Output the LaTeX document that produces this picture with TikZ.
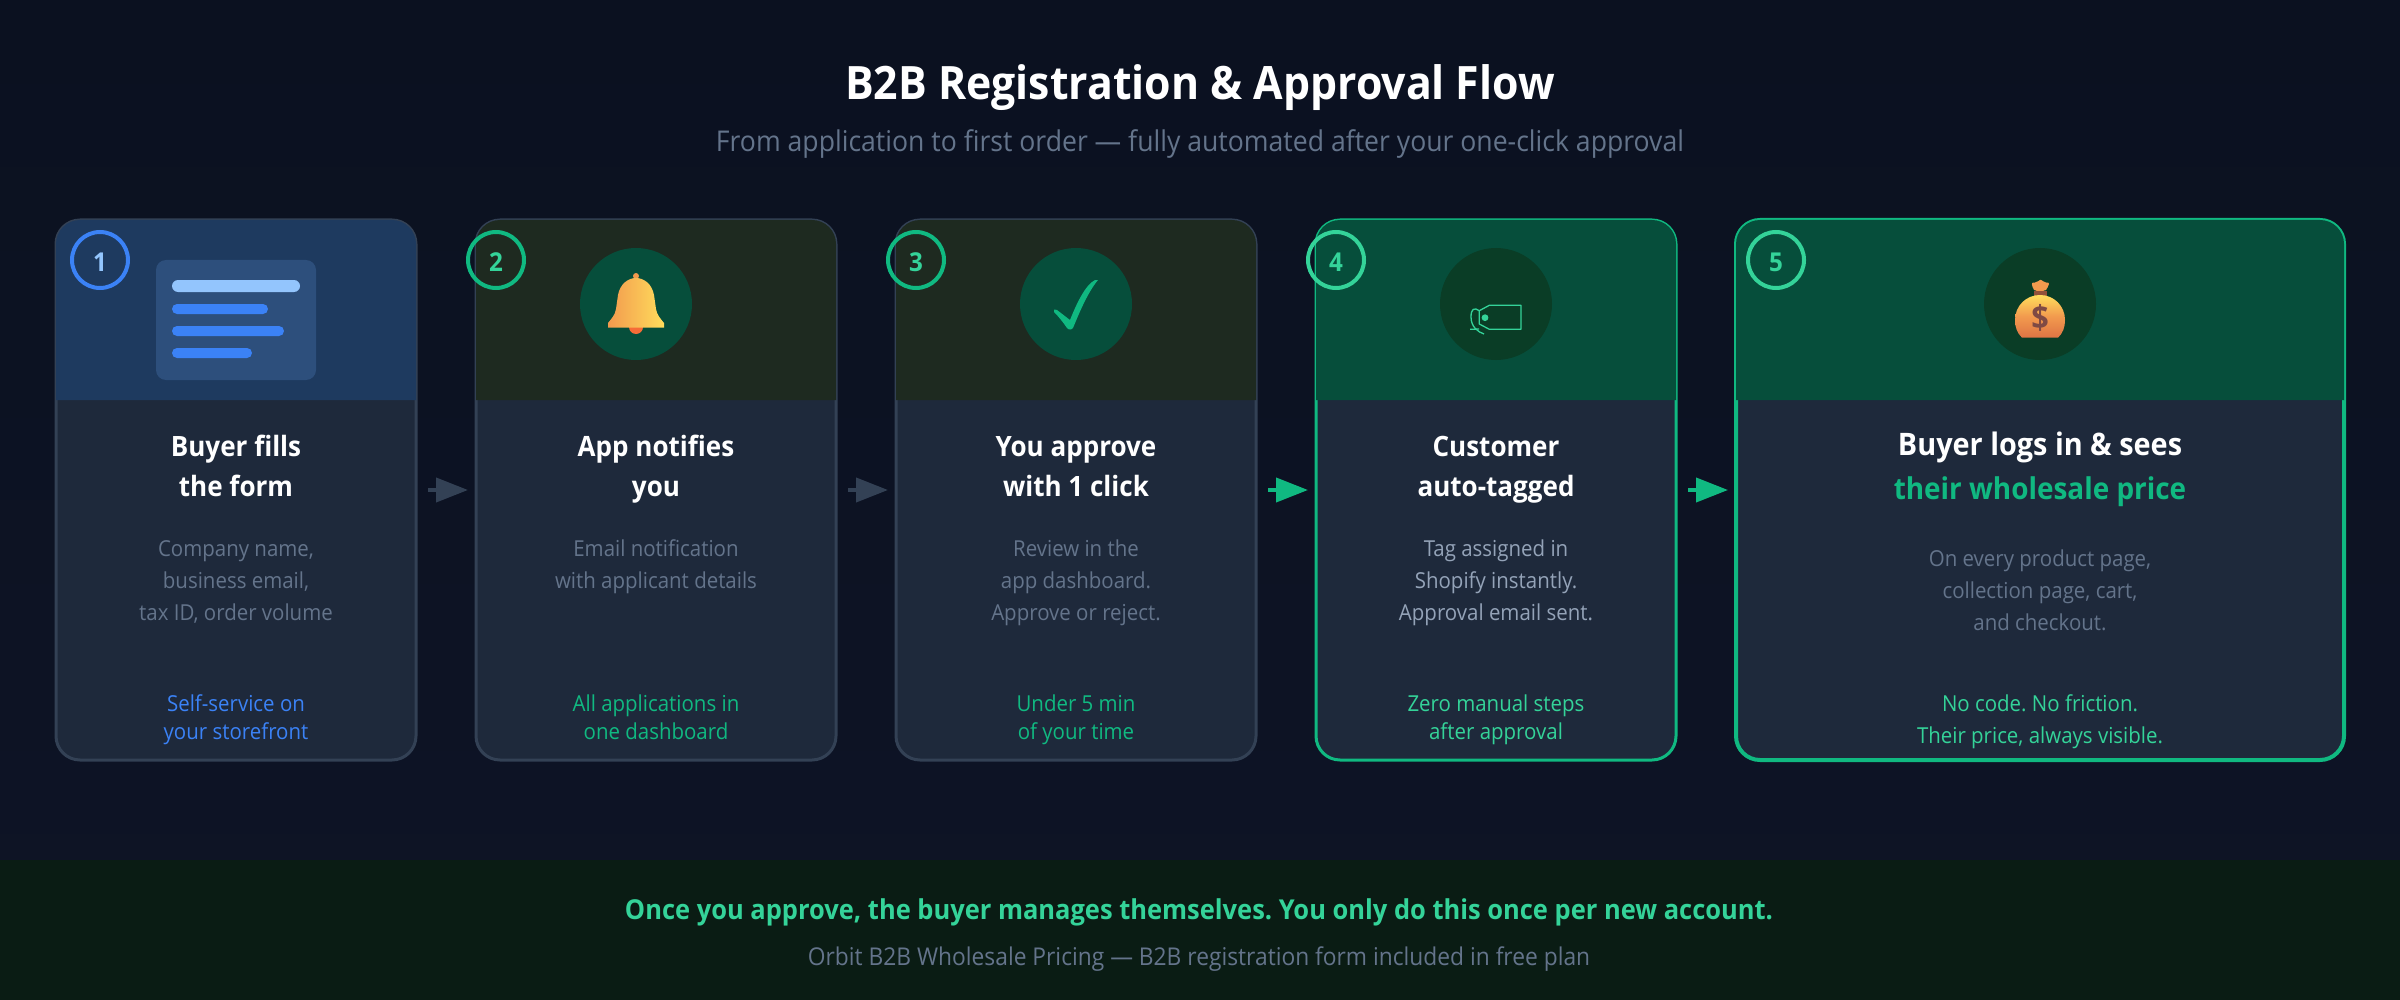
\documentclass[tikz,border=0pt]{standalone}
\usepackage{fontspec}
\setmainfont{Open Sans}[FakeStretch=0.93]
\usetikzlibrary{arrows.meta}

\definecolor{bgtop}{HTML}{0B1120}
\definecolor{bgbottom}{HTML}{0E1426}
\definecolor{footband}{HTML}{0A1C14}
\definecolor{cardbody}{HTML}{1E293B}
\definecolor{cardline}{HTML}{334155}
\definecolor{headblue}{HTML}{1E3A5F}
\definecolor{headolive}{HTML}{1E2A20}
\definecolor{headgreen}{HTML}{064E3B}
\definecolor{discdark}{HTML}{0A3D26}
\definecolor{panelblue}{HTML}{2D4F7C}
\definecolor{blue}{HTML}{3B82F6}
\definecolor{lightblue}{HTML}{93C5FD}
\definecolor{green}{HTML}{10B981}
\definecolor{mint}{HTML}{34D399}
\definecolor{dimtext}{HTML}{64748B}
\definecolor{softtext}{HTML}{94A3B8}
\definecolor{bellorange}{HTML}{F29A4E}
\definecolor{bellyellow}{HTML}{FFDD5C}
\definecolor{bagred}{HTML}{DE7444}
\definecolor{bagbrown}{HTML}{7F4A44}

\tikzset{
	stepcard/.style={rectangle, draw=cardline, fill=cardbody, line width=3pt, rounded corners=24pt, outer sep=0pt, minimum width=360pt, minimum height=540pt},
	badge/.style={circle, draw=#1, line width=4pt, minimum size=56pt, inner sep=0pt, outer sep=0pt},
	icondisc/.style={circle, fill=#1, minimum size=112pt, inner sep=0pt, outer sep=0pt},
	badgenum/.style={anchor=base, text=#1, font=\fontsize{26}{30}\selectfont\bfseries},
	steptitle/.style={anchor=base, align=center, text=white, font=\fontsize{28}{40}\selectfont\bfseries},
	stepdesc/.style={anchor=base, align=center, text=#1, font=\fontsize{22}{32}\selectfont},
	stepnote/.style={anchor=base, align=center, text=#1, font=\fontsize{22}{28}\selectfont},
	flowarrow/.style={draw=#1, line width=4pt, -{Triangle[length=32pt,width=24pt]}},
}

\newcommand{\cardhead}[2]{
	\fill[#2] (#1.west |- 0,400) [rounded corners=24pt] -- (#1.north west) -- (#1.north east) [sharp corners] -- (#1.east |- 0,400) -- cycle;
}

\begin{document}
\frenchspacing
\begin{tikzpicture}[x=1pt, y=-1pt]
	\useasboundingbox (0,0) rectangle (2400,1000);
	\shade[top color=bgtop, bottom color=bgbottom] (0,0) rectangle (2400,1000);
	\fill[footband] (0,860) rectangle (2400,1000);

	\node[anchor=base, text=white, font=\fontsize{46}{50}\selectfont\bfseries] (title) at (1200,100) {B2B Registration \& Approval Flow};
	\node[anchor=base, text=dimtext, font=\fontsize{28.6}{32}\selectfont] (subtitle) at (1200,152) {From application to first order — fully automated after your one-click approval};

	% cards
	\node[stepcard] (card1) at (236,490) {};
	\node[stepcard] (card2) at (656,490) {};
	\node[stepcard] (card3) at (1076,490) {};
	\node[stepcard, draw=green] (card4) at (1496,490) {};
	\node[stepcard, draw=green, line width=4pt, minimum width=608pt] (card5) at (2040,490) {};

	\cardhead{card1}{headblue}
	\cardhead{card2}{headolive}
	\cardhead{card3}{headolive}
	\cardhead{card4}{headgreen}
	\cardhead{card5}{headgreen}

	\draw[flowarrow=cardline] ([xshift=12pt]card1.east) -- ([xshift=-8pt]card2.west);
	\draw[flowarrow=cardline] ([xshift=12pt]card2.east) -- ([xshift=-8pt]card3.west);
	\draw[flowarrow=green] ([xshift=12pt]card3.east) -- ([xshift=-8pt]card4.west);
	\draw[flowarrow=green] ([xshift=12pt]card4.east) -- ([xshift=-8pt]card5.west);

	% form icon
	\fill[panelblue, rounded corners=10pt] (156,260) rectangle (316,380);
	\fill[lightblue, rounded corners=6pt] (172,280) rectangle (300,292);
	\fill[blue, rounded corners=5pt] (172,304) rectangle (268,314);
	\fill[blue, rounded corners=5pt] (172,326) rectangle (284,336);
	\fill[blue, rounded corners=5pt] (172,348) rectangle (252,358);

	% bell icon
	\node[icondisc=headgreen] (disc2) at (636,304) {};
	\fill[bellorange!70!red] (629,327) arc (180:0:7) arc (0:-180:7);
	\fill[bellorange] (636,276) circle (3);
	\shade[left color=bellorange, right color=bellyellow] (608,327.5) -- (608,323) .. controls (612,318) and (615,315) .. (616,309) -- (618,295) .. controls (620,284) and (628,278) .. (636,278) .. controls (644,278) and (652,284) .. (654,295) -- (656,309) .. controls (657,315) and (660,318) .. (664,323) -- (664,327.5) -- cycle;

	% check icon
	\node[icondisc=headgreen] (disc3) at (1076,304) {};
	\fill[green] (1054,309.5) .. controls (1055,309) and (1056,309) .. (1057,310) -- (1070,320) .. controls (1076,305) and (1085,285) .. (1095,280) -- (1098,280) .. controls (1088,292) and (1080,311) .. (1073,328) .. controls (1072,330) and (1068,330) .. (1067,328) .. controls (1063,322) and (1058,316) .. (1054,312) -- cycle;

	% tag icon
	\node[icondisc=discdark] (disc4) at (1496,304) {};
	\draw[mint, line width=1.3pt, line join=round] (1489.3,305.3) -- (1521,305.3) -- (1521,329.3) -- (1489.3,329.3) -- (1479.3,324) -- (1479.3,310.7) -- cycle;
	\fill[mint] (1485,317.7) circle (3.4);
	\draw[mint, line width=1.3pt] (1479.3,310.7) .. controls (1474,307) and (1471,309) .. (1471,317) .. controls (1471,327) and (1478,332) .. (1484,334);
	\draw[mint, line width=1.3pt] (1470,329.3) -- (1479,329);

	% money bag icon
	\node[icondisc=discdark] (disc5) at (2040,304) {};
	\fill[bellorange, rounded corners=2pt] (2040.5,279) -- (2044,282.5) -- (2049.5,282.5) -- (2047,289) -- (2045,291) -- (2035,291) -- (2033,289) -- (2031.5,282.5) -- (2037,282.5) -- cycle;
	\fill[bagbrown!85!orange] (2034,290.5) rectangle (2046.7,296);
	\shade[top color=bellyellow, bottom color=bagred, middle color=bellorange] (2022,337.7) .. controls (2017,333) and (2015,327) .. (2015,320) .. controls (2015,306) and (2026,295) .. (2040,295) .. controls (2054,295) and (2065,306) .. (2065,320) .. controls (2065,327) and (2063,333) .. (2058,337.7) -- cycle;
	\node[anchor=base, text=bagbrown, font=\fontsize{33}{35}\selectfont\bfseries] (dollar) at (2040,329) {\$};

	% badges
	\node[badge=blue] (badge1) at (100,260) {};
	\node[badge=green] (badge2) at (496,260) {};
	\node[badge=green] (badge3) at (916,260) {};
	\node[badge=mint] (badge4) at (1336,260) {};
	\node[badge=mint] (badge5) at (1776,260) {};
	\node[badgenum=lightblue] (num1) at (100,272) {1};
	\node[badgenum=mint] (num2) at (496,272) {2};
	\node[badgenum=mint] (num3) at (916,272) {3};
	\node[badgenum=mint] (num4) at (1336,272) {4};
	\node[badgenum=mint] (num5) at (1776,272) {5};

	% card texts
	\node[steptitle] (title1) at (236,496) {Buyer fills\\the form};
	\node[stepdesc=dimtext] (desc1) at (236,620) {Company name,\\business email,\\tax ID, order volume};
	\node[stepnote=blue] (note1) at (236,739.5) {Self-service on\\your storefront};

	\node[steptitle] (title2) at (656,496) {App notifies\\you};
	\node[stepdesc=dimtext] (desc2) at (656,588) {Email notification\\with applicant details};
	\node[stepnote=green] (note2) at (656,739.5) {All applications in\\one dashboard};

	\node[steptitle] (title3) at (1076,496) {You approve\\with 1 click};
	\node[stepdesc=dimtext] (desc3) at (1076,620) {Review in the\\app dashboard.\\Approve or reject.};
	\node[stepnote=green] (note3) at (1076,739.5) {Under 5 min\\of your time};

	\node[steptitle] (title4) at (1496,496) {Customer\\auto-tagged};
	\node[stepdesc=softtext] (desc4) at (1496,620) {Tag assigned in\\Shopify instantly.\\Approval email sent.};
	\node[stepnote=mint] (note4) at (1496,739.5) {Zero manual steps\\after approval};

	\node[steptitle, font=\fontsize{30}{44}\selectfont\bfseries] (title5) at (2040,499) {\fontsize{31}{44}\selectfont Buyer logs in \& sees\\\textcolor{green}{their wholesale price}};
	\node[stepdesc=dimtext] (desc5) at (2040,630) {On every product page,\\collection page, cart,\\and checkout.};
	\node[stepnote=mint, font=\fontsize{22}{32}\selectfont] (note5) at (2040,743) {No code. No friction.\\Their price, always visible.};

	% footer
	\node[anchor=base, text=mint, font=\fontsize{27.4}{32}\selectfont\bfseries] (footmain) at (1199,919) {Once you approve, the buyer manages themselves. You only do this once per new account.};
	\node[anchor=base, text=dimtext, font=\fontsize{24.5}{28}\selectfont] (footsub) at (1199,965) {Orbit B2B Wholesale Pricing — B2B registration form included in free plan};
\end{tikzpicture}
\end{document}
